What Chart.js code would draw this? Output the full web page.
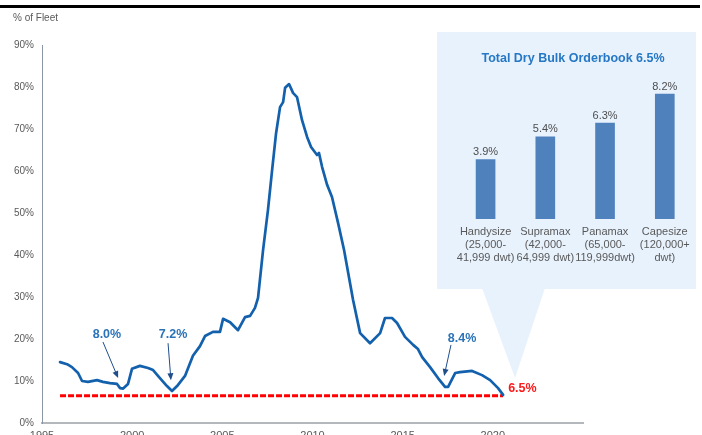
<!DOCTYPE html>
<html>
<head>
<meta charset="utf-8">
<script src="https://cdn.jsdelivr.net/npm/chart.js@4.4.0/dist/chart.umd.min.js"></script>
<style>
  html, body { margin:0; padding:0; background:#ffffff; overflow:hidden; }
  #wrap { position:relative; width:702px; height:435px; overflow:hidden; }
  #topRule { position:absolute; left:0; top:5px; width:700px; height:3px; background:#000; }
  #main { position:absolute; left:0; top:0; }
  #bars { position:absolute; left:450px; top:72px; }
</style>
</head>
<body>
<div id="wrap">
  <canvas id="main" width="702" height="455"></canvas>
  <canvas id="bars" width="246" height="197"></canvas>
  <div id="topRule"></div>
</div>
<script>
// ---------- DATA ----------
const years = [1996.00,1996.39,1996.66,1997.00,1997.22,1997.55,1998.05,1998.38,1998.77,1999.16,1999.33,1999.50,1999.77,1999.99,
  2000.43,2000.88,2001.16,2001.54,2001.93,2002.21,2002.49,2002.93,2003.37,2003.76,2004.04,2004.48,2004.87,2005.04,2005.43,
  2005.87,2006.26,2006.54,2006.81,2006.98,2007.26,2007.53,2007.76,2007.98,2008.20,2008.37,2008.48,2008.70,2008.92,2009.14,
  2009.42,2009.70,2009.92,2010.25,2010.36,2010.53,2010.81,2011.08,2011.42,2011.75,2012.25,2012.64,2013.19,2013.75,2014.02,
  2014.41,2014.69,2015.13,2015.58,2015.85,2016.08,2016.52,2016.96,2017.35,2017.52,2017.91,2018.18,2018.85,2019.40,2019.85,
  2020.29,2020.57];
const fleetPct = [14.5,14.0,13.3,11.9,10.0,9.8,10.2,9.8,9.5,9.3,8.3,8.2,9.3,12.9,
  13.6,13.1,12.6,10.7,8.8,7.6,8.8,11.2,16.0,18.3,20.7,21.7,21.7,24.8,24.0,
  22.1,25.2,25.5,27.4,29.8,41.2,50.7,60.2,69.0,75.2,76.4,79.8,80.7,78.6,77.6,
  72.1,68.1,65.7,63.8,64.3,61.0,56.7,53.8,47.6,41.2,29.3,21.4,19.0,21.4,25.0,
  25.0,23.8,20.5,18.6,17.6,15.7,13.3,10.7,8.6,8.6,11.9,12.1,12.4,11.4,10.2,
  8.3,6.7];
const currentLevel = 6.5;
const currentLevelSpan = [1996.0, 2020.57];
const xRange = [1995, 2025];
const xTickLabels = ['1995', '2000', '2005', '2010', '2015', '2020'];
const yTickRange = [0, 90];

const annoText  = ['8.0%', '7.2%', '8.4%'];
const annoTextX = [1998.6, 2002.27, 2018.29];
const annoTextY = [21.0, 21.0, 20.2];
const arrowFromX = [1998.38, 2001.99, 2017.68];
const arrowFromY = [19.3, 19.0, 18.6];
const arrowToX   = [1999.22, 2002.15, 2017.30];
const arrowToY   = [10.7, 10.2, 11.2];
const currentLabel = '6.5%';
const currentLabelX = 2020.85;
const currentLabelY = 8.1;

const barCategories = [
  ['Handysize','(25,000-','41,999 dwt)'],
  ['Supramax','(42,000-','64,999 dwt)'],
  ['Panamax','(65,000-','119,999dwt)'],
  ['Capesize','(120,000+','dwt)']
];
const barValues = [3.9, 5.4, 6.3, 8.2];
const panelTitle = 'Total Dry Bulk Orderbook 6.5%';

// ---------- STYLE ----------
const FONT = "'Liberation Sans', Arial, sans-serif";
Chart.defaults.font.family = FONT;
const lineBlue = '#1360ad';
const annoBlue = '#2b73b8';
const panelBg = '#e8f2fd';

const panelPlugin = {
  id: 'panel',
  beforeDatasetsDraw(chart) {
    const c = chart.ctx;
    c.save();
    c.fillStyle = panelBg;
    c.fillRect(437, 32, 259, 257);
    c.beginPath();
    c.moveTo(482, 288); c.lineTo(545, 288); c.lineTo(515, 378); c.closePath();
    c.fill();
    c.fillStyle = '#2678c4';
    c.font = 'bold 12.5px ' + FONT;
    c.textAlign = 'center'; c.textBaseline = 'middle';
    c.fillText(panelTitle, 573, 59);
    c.fillStyle = '#595959';
    c.font = '10px ' + FONT;
    c.textAlign = 'left';
    c.fillText('% of Fleet', 13, 18);
    c.restore();
  },
  afterDatasetsDraw(chart) {
    const c = chart.ctx, xs = chart.scales.x, ys = chart.scales.y;
    c.save();
    c.font = 'bold 12.5px ' + FONT;
    c.textAlign = 'center'; c.textBaseline = 'middle';
    for (let i = 0; i < annoText.length; i++) {
      c.fillStyle = annoBlue;
      c.fillText(annoText[i], xs.getPixelForValue(annoTextX[i]), ys.getPixelForValue(annoTextY[i]));
      const x1 = xs.getPixelForValue(arrowFromX[i]), y1 = ys.getPixelForValue(arrowFromY[i]);
      const x2 = xs.getPixelForValue(arrowToX[i]), y2 = ys.getPixelForValue(arrowToY[i]);
      const ang = Math.atan2(y2 - y1, x2 - x1);
      c.strokeStyle = '#1f4e8c'; c.lineWidth = 1;
      c.beginPath(); c.moveTo(x1, y1);
      c.lineTo(x2 - 5 * Math.cos(ang), y2 - 5 * Math.sin(ang)); c.stroke();
      c.fillStyle = '#1f4e8c';
      c.beginPath();
      c.moveTo(x2, y2);
      c.lineTo(x2 - 7 * Math.cos(ang) + 3 * Math.sin(ang), y2 - 7 * Math.sin(ang) - 3 * Math.cos(ang));
      c.lineTo(x2 - 7 * Math.cos(ang) - 3 * Math.sin(ang), y2 - 7 * Math.sin(ang) + 3 * Math.cos(ang));
      c.closePath(); c.fill();
    }
    c.fillStyle = '#ff1a1a';
    c.textAlign = 'left';
    c.fillText(currentLabel, xs.getPixelForValue(currentLabelX), ys.getPixelForValue(currentLabelY));
    c.restore();
  }
};

new Chart(document.getElementById('main'), {
  type: 'line',
  data: {
    datasets: [
      {
        data: years.map((y, i) => ({ x: y, y: fleetPct[i] })),
        borderColor: lineBlue, borderWidth: 2.7, pointRadius: 0, tension: 0,
        borderJoinStyle: 'round', borderCapStyle: 'round', order: 1
      },
      {
        data: currentLevelSpan.map(y => ({ x: y, y: currentLevel })),
        borderColor: '#ff0000', borderWidth: 3, borderDash: [6, 2], pointRadius: 0, order: 2
      }
    ]
  },
  options: {
    responsive: false, animation: false,
    layout: { padding: { left: 0, right: 119, top: 45, bottom: 0 } },
    plugins: { legend: { display: false }, tooltip: { enabled: false } },
    scales: {
      x: {
        type: 'linear', min: xRange[0], max: xRange[1],
        grid: { display: false, drawTicks: false },
        border: { display: true, color: '#b4b8bd', width: 2 },
        ticks: { stepSize: 5, padding: 6, color: '#595959', font: { size: 11 },
                 callback: v => xTickLabels.includes(String(v)) ? String(v) : '', maxRotation: 0 },
        afterFit: s => { s.height = 32; }
      },
      y: {
        min: yTickRange[0], max: yTickRange[1],
        grid: { display: false, drawTicks: false },
        border: { display: true, color: '#8a96a3', width: 1 },
        ticks: { stepSize: 10, padding: 8, color: '#595959', font: { size: 10 },
                 callback: v => v + '%' },
        afterFit: s => { s.width = 42; }
      }
    }
  },
  plugins: [panelPlugin]
});

const barLabelPlugin = {
  id: 'barLabels',
  afterDatasetsDraw(chart) {
    const c = chart.ctx;
    c.save();
    c.fillStyle = '#4d4d4d';
    c.font = '11px ' + FONT;
    c.textAlign = 'center'; c.textBaseline = 'bottom';
    chart.getDatasetMeta(0).data.forEach((bar, i) => {
      c.fillText(barValues[i].toFixed(1) + '%', bar.x, bar.y - 2);
    });
    c.restore();
  }
};

new Chart(document.getElementById('bars'), {
  type: 'bar',
  data: {
    labels: barCategories,
    datasets: [{ data: barValues, backgroundColor: '#4f81bd', barThickness: 19 }]
  },
  options: {
    responsive: false, animation: false,
    layout: { padding: { left: 0, right: 0, top: 10, bottom: 0 } },
    plugins: { legend: { display: false }, tooltip: { enabled: false } },
    scales: {
      x: {
        grid: { display: false, drawTicks: false },
        border: { display: false },
        ticks: { padding: 7, color: '#595959', font: { size: 11, lineHeight: 1.16 }, maxRotation: 0, autoSkip: false },
        afterFit: s => { s.height = 50; }
      },
      y: { display: false, min: 0, max: 9 }
    }
  },
  plugins: [barLabelPlugin]
});
</script>
</body>
</html>
